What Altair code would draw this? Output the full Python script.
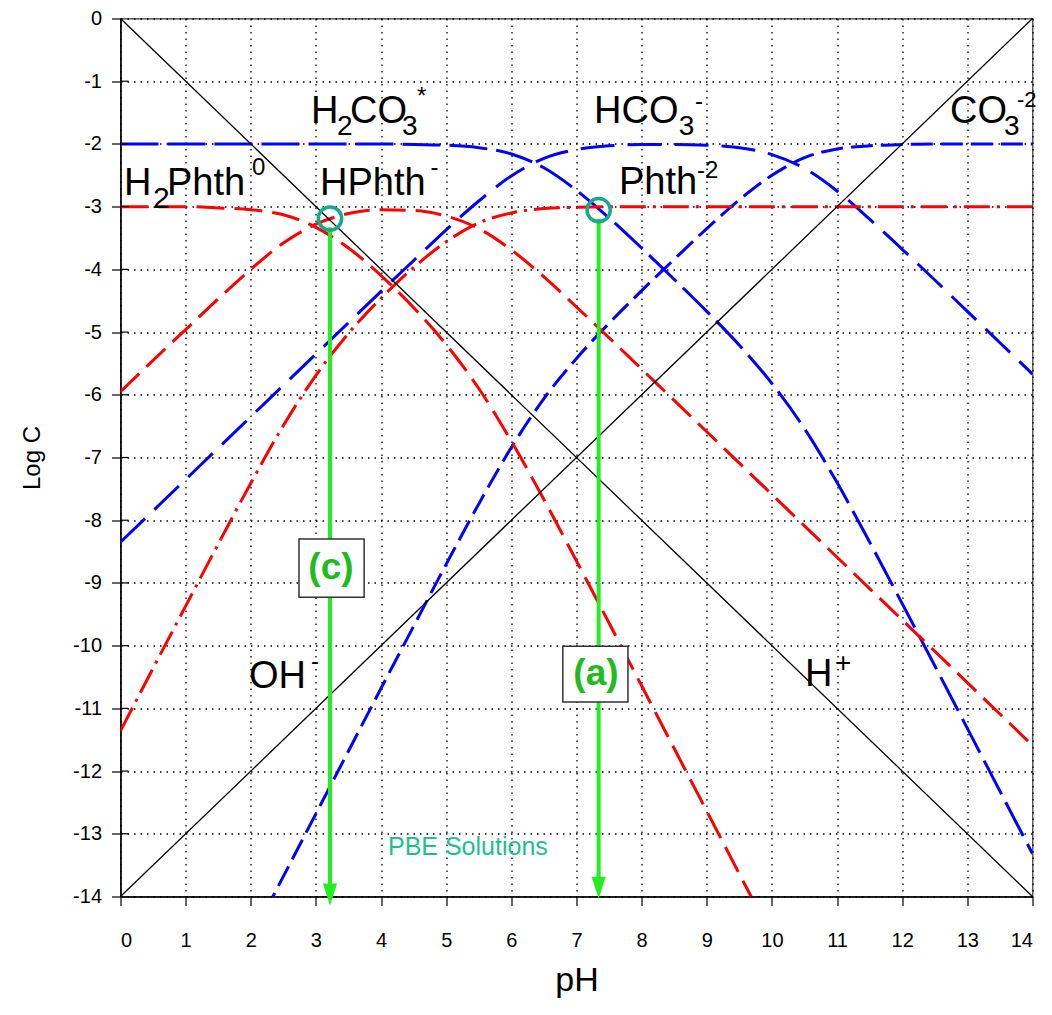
import altair as alt
import pandas as pd

# ---------------- data ----------------
PH = [0, 0.5, 1, 1.5, 2, 2.5, 3, 3.5, 4, 4.5, 5, 5.5, 6, 6.5, 7, 7.5, 8, 8.5, 9,
      9.5, 10, 10.5, 11, 11.5, 12, 12.5, 13, 13.5, 14]

H2CO3 = [-2.00, -2.00, -2.00, -2.00, -2.00, -2.00, -2.00, -2.00, -2.00, -2.01,
         -2.02, -2.06, -2.16, -2.38, -2.74, -3.18, -3.66, -4.16, -4.67, -5.21,
         -5.82, -6.54, -7.40, -8.35, -9.33, -10.32, -11.32, -12.32, -13.32]
HCO3 = [-8.35, -7.85, -7.35, -6.85, -6.35, -5.85, -5.35, -4.85, -4.35, -3.86,
        -3.37, -2.91, -2.51, -2.23, -2.09, -2.03, -2.01, -2.01, -2.02, -2.06,
        -2.17, -2.39, -2.75, -3.20, -3.68, -4.17, -4.67, -5.17, -5.67]
CO3 = [None, None, None, None, -14.68, -13.68, -12.68, -11.68, -10.68, -9.69,
       -8.70, -7.74, -6.84, -6.06, -5.42, -4.86, -4.34, -3.84, -3.35, -2.89,
       -2.50, -2.22, -2.08, -2.03, -2.01, -2.00, -2.00, -2.00, -2.00]
H2PHTH = [-3.00, -3.00, -3.00, -3.02, -3.05, -3.13, -3.33, -3.66, -4.10, -4.61,
          -5.20, -5.90, -6.74, -7.67, -8.65, -9.64, -10.64, -11.64, -12.64, -13.64,
          -14.64, None, None, None, None, None, None, None, None]
HPHTH = [-5.95, -5.45, -4.96, -4.47, -4.00, -3.58, -3.28, -3.11, -3.05, -3.06,
         -3.15, -3.35, -3.69, -4.12, -4.60, -5.09, -5.59, -6.09, -6.59, -7.09,
         -7.59, -8.09, -8.59, -9.09, -9.59, -10.09, -10.59, -11.09, -11.59]
PHTH = [-11.36, -10.36, -9.37, -8.38, -7.41, -6.49, -5.69, -5.02, -4.46, -3.97,
        -3.56, -3.26, -3.10, -3.03, -3.01, -3.00, -3.00, -3.00, -3.00, -3.00,
        -3.00, -3.00, -3.00, -3.00, -3.00, -3.00, -3.00, -3.00, -3.00]

H_LINE_PH = [0, 14]
H_LINE_LOGC = [0, -14]
OH_LINE_PH = [0, 14]
OH_LINE_LOGC = [-14, 0]

# PBE solutions (arrows and circles)
SOL_NAMES = ["(c)", "(a)"]
SOL_PH = [3.216, 7.340]
SOL_LOGC = [-3.19, -3.055]
SOL_HEAD = [-13.97, -13.86]

X_TICKS = list(range(0, 15))
Y_TICKS = list(range(-14, 1))

# species labels: text pieces with position (pH, logC) and font size
LBL_TEXT = ["H", "2", "CO", "3", "*",
            "HCO", "3", "-",
            "CO", "3", "-2",
            "H", "2", "Phth", "0",
            "HPhth", "-",
            "Phth", "-2",
            "OH", "-",
            "H", "+"]
LBL_PH = [2.925, 3.323, 3.523, 4.321, 4.552,
          7.269, 8.570, 8.820,
          12.734, 13.563, 13.762,
          0.054, 0.499, 0.714, 2.019,
          3.063, 4.760,
          7.652, 8.850,
          1.973, 2.925,
          10.508, 10.968]
LBL_LOGC = [-1.667, -1.859, -1.667, -1.859, -1.364,
            -1.667, -1.859, -1.444,
            -1.667, -1.859, -1.412,
            -2.816, -3.023, -2.816, -2.497,
            -2.816, -2.497,
            -2.800, -2.545,
            -10.681, -10.378,
            -10.649, -10.427]
LBL_SIZE = [38, 28, 38, 28, 24,
            38, 28, 24,
            38, 28, 22,
            38, 30, 38, 24,
            38, 24,
            38, 24,
            38, 24,
            38, 28]

# boxed answer labels
BOX_PH1 = [2.74, 6.79]
BOX_PH2 = [3.74, 7.79]
BOX_LOGC1 = [-8.30, -10.01]
BOX_LOGC2 = [-9.23, -10.90]
BOX_TEXT_PH = [3.231, 7.299]
BOX_TEXT_LOGC = [-8.767, -10.458]

FONT = "Liberation Sans, Arial, Helvetica, sans-serif"
BLUE = "#0000ff"
RED = "#ff0000"
GREEN = "#22ee22"
TEAL = "#16a98a"

# ---------------- scales / axes ----------------
xs = alt.Scale(domain=[0, 14], nice=False, zero=False)
ys = alt.Scale(domain=[-14, 0], nice=False, zero=False)
x_axis = alt.Axis(values=X_TICKS, title="pH", labelExpr="toString(datum.value)",
                  tickSize=9, labelPadding=25, titlePadding=13, titleFontSize=34,
                  labelFontSize=20, grid=True)
y_axis = alt.Axis(values=Y_TICKS, title="Log C", labelExpr="toString(datum.value)",
                  tickSize=9, labelPadding=10, titlePadding=28, titleFontSize=24,
                  labelFontSize=20, grid=True)


def X(field="pH"):
    return alt.X(f"{field}:Q", scale=xs, axis=x_axis)


def Y(field="logC"):
    return alt.Y(f"{field}:Q", scale=ys, axis=y_axis)


layers = []

series = [
    (H2CO3, BLUE, [38, 9]),
    (HCO3, BLUE, [34, 13]),
    (CO3, BLUE, [22, 8]),
    (H2PHTH, RED, [28, 10]),
    (HPHTH, RED, [26, 10]),
    (PHTH, RED, [26, 7, 3, 7]),
]
for vals, col, dash in series:
    df = pd.DataFrame({"pH": PH, "logC": vals}).dropna()
    layers.append(alt.Chart(df).mark_line(color=col, strokeWidth=3, strokeDash=dash,
                                          interpolate="monotone", clip=True)
                  .encode(x=X(), y=Y()))

# inner half of the y ticks
inner = pd.DataFrame({"logC": [v for v in Y_TICKS if -14 < v < 0]})
layers.append(alt.Chart(inner).mark_rule(color="black", strokeWidth=1.2).encode(
    x=alt.value(0), x2=alt.value(8), y=Y()))

for xs_, ys_ in [(H_LINE_PH, H_LINE_LOGC), (OH_LINE_PH, OH_LINE_LOGC)]:
    df = pd.DataFrame({"pH": xs_, "logC": ys_})
    layers.append(alt.Chart(df).mark_line(color="black", strokeWidth=1.3)
                  .encode(x=X(), y=Y()))

sol = pd.DataFrame({"name": SOL_NAMES, "pH": SOL_PH, "logC": SOL_LOGC,
                    "head": SOL_HEAD})
sol["top"] = sol["logC"] - 0.14
sol["bottom"] = sol["head"] + 0.1

layers.append(alt.Chart(sol).mark_rule(color=GREEN, strokeWidth=4).encode(
    x=X(), y=Y("top"), y2="bottom:Q"))
layers.append(alt.Chart(sol).mark_point(
    shape="M-0.64,-1L0.64,-1L0,1Z", filled=True, size=484, color=GREEN,
    opacity=1, clip=False).encode(x=X(), y=Y("head")))
layers.append(alt.Chart(sol).mark_point(
    shape="circle", filled=False, size=540, strokeWidth=3.5, color=TEAL,
    opacity=1).encode(x=X(), y=Y()))

boxes = pd.DataFrame({"pH": BOX_PH1, "pH2": BOX_PH2, "logC": BOX_LOGC1,
                      "logC2": BOX_LOGC2, "tx": BOX_TEXT_PH, "ty": BOX_TEXT_LOGC,
                      "name": SOL_NAMES})
layers.append(alt.Chart(boxes).mark_rect(fill="white", stroke="#333333",
                                         strokeWidth=1.5).encode(
    x=X(), x2="pH2:Q", y=Y(), y2="logC2:Q"))
layers.append(alt.Chart(boxes).mark_text(font=FONT, fontSize=37, fontWeight="bold",
                                         color="#1fbb1f", align="center",
                                         baseline="middle").encode(
    x=X("tx"), y=Y("ty"), text="name:N"))

labels = pd.DataFrame({"pH": LBL_PH, "logC": LBL_LOGC, "text": LBL_TEXT,
                       "size": LBL_SIZE})
layers.append(alt.Chart(labels).mark_text(font=FONT, color="black", align="left",
                                          baseline="alphabetic", clip=False).encode(
    x=X(), y=Y(), text="text:N", size=alt.Size("size:Q", scale=None, legend=None)))

pbe = pd.DataFrame({"pH": [4.106], "logC": [-13.345], "text": ["PBE Solutions"]})
layers.append(alt.Chart(pbe).mark_text(font=FONT, fontSize=25, color="#1fbf8f",
                                       align="left", baseline="alphabetic").encode(
    x=X(), y=Y(), text="text:N"))

chart = alt.layer(*layers).properties(
    width=912, height=878,
    autosize=alt.AutoSizeParams(type="none"),
    padding={"left": 112.5, "top": 10.5, "right": 11, "bottom": 106},
).configure_view(stroke="#333333", strokeWidth=1.2).configure_axis(
    labelFont=FONT, titleFont=FONT, labelColor="black", titleColor="black",
    tickColor="black", domainColor="black", domainWidth=1.5, tickWidth=1.2,
    gridColor="black", gridDash=[1.5, 5], gridWidth=1.3, gridOpacity=1,
    titleFontWeight="normal",
).configure_axisX(titleFontSize=34, labelFontSize=20).configure_axisY(
    titleFontSize=24, labelFontSize=20)

chart.save("out.html", embed_options={"renderer": "svg", "actions": False})
